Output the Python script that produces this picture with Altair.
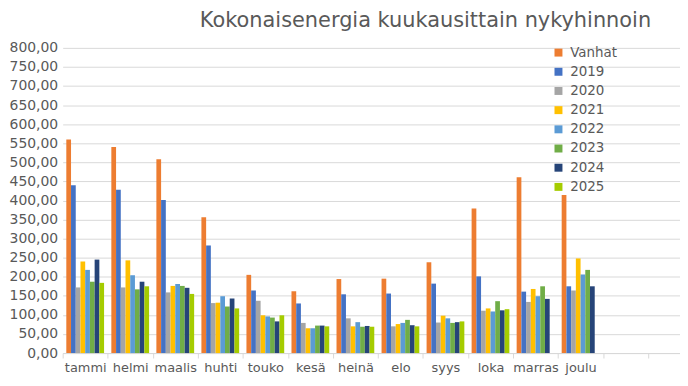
import altair as alt
import pandas as pd

months = ["tammi", "helmi", "maalis", "huhti", "touko", "kesä", "heinä",
          "elo", "syys", "loka", "marras", "joulu"]
series = ["Vanhat", "2019", "2020", "2021", "2022", "2023", "2024", "2025"]
colors = ["#ED7D31", "#4472C4", "#A5A5A5", "#FFC000", "#5B9BD5", "#70AD47",
          "#264478", "#A5CC00"]

vanhat = [560, 540, 508, 356, 205, 162, 194, 195, 238, 379, 461, 414]
y2019 = [440, 428, 401, 282, 164, 130, 154, 156, 182, 201, 161, 175]
y2020 = [172, 172, 159, 131, 137, 79, 91, 70, 80, 111, 134, 164]
y2021 = [240, 243, 176, 132, 99, 65, 70, 76, 98, 117, 168, 248]
y2022 = [218, 204, 181, 149, 96, 65, 81, 79, 91, 109, 149, 206]
y2023 = [187, 167, 176, 122, 93, 72, 69, 87, 79, 136, 175, 218]
y2024 = [245, 187, 171, 143, 83, 72, 71, 73, 81, 112, 142, 175]
y2025 = [184, 175, 155, 117, 99, 70, 69, 70, 83, 115, None, None]

values = [vanhat, y2019, y2020, y2021, y2022, y2023, y2024, y2025]

rows = []
for s, vals in zip(series, values):
    for m, v in zip(months, vals):
        if v is not None:
            rows.append({"kk": m, "sarja": s, "arvo": v})
df = pd.DataFrame(rows)

x_domain = months + ["_tyhja"]
text_col = "#595959"
grid_col = "#D9D9D9"

chart = alt.Chart(df).mark_bar().encode(
    x=alt.X("kk:N", sort=x_domain,
            scale=alt.Scale(domain=x_domain, paddingInner=0, paddingOuter=0.354, align=0),
            axis=alt.Axis(title=None, labelAngle=0, tickBand="extent", tickSize=5,
                          tickColor=grid_col, domainColor=grid_col, labelColor=text_col,
                          labelFontSize=13, labelPadding=4, labelFont="DejaVu Sans",
                          labelExpr="datum.label == '_tyhja' ? '' : datum.label")),
    xOffset=alt.XOffset("sarja:N", sort=series,
                        scale=alt.Scale(domain=series, paddingInner=0, paddingOuter=0.77)),
    y=alt.Y("arvo:Q", scale=alt.Scale(domain=[0, 800], nice=False),
            axis=alt.Axis(title=None, values=list(range(0, 801, 50)), gridColor=grid_col,
                          domain=False, ticks=False, labelColor=text_col, labelFontSize=14,
                          labelPadding=5, labelFont="DejaVu Sans",
                          labelExpr="replace(format(datum.value, '.2f'), '.', ',')")),
    color=alt.Color("sarja:N", sort=series,
                    scale=alt.Scale(domain=series, range=colors),
                    legend=alt.Legend(title=None, orient="none", legendX=492, legendY=-2,
                                      symbolType="square", symbolSize=64,
                                      symbolStrokeWidth=0, labelFontSize=13.5,
                                      labelColor=text_col, labelFont="DejaVu Sans",
                                      labelOffset=5, rowPadding=4.3, padding=0)),
).properties(
    width=621,
    height=307,
    padding={"left": 1, "top": 1, "right": 0, "bottom": 4},
    title=alt.TitleParams("Kokonaisenergia kuukausittain nykyhinnoin", anchor="start",
                          dx=192, fontSize=21, fontWeight="normal", color=text_col,
                          font="DejaVu Sans", offset=10),
).configure_view(stroke=None)

chart.save("out.html", embed_options={"renderer": "svg", "actions": False})
